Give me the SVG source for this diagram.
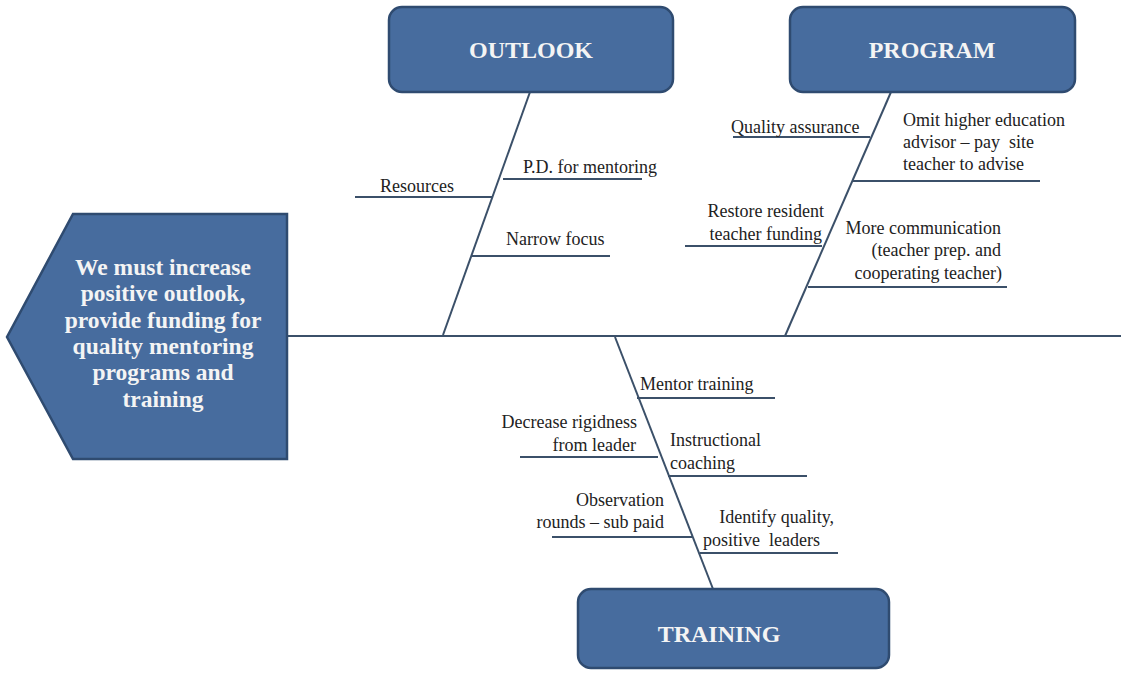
<svg xmlns="http://www.w3.org/2000/svg" width="1121" height="675" viewBox="0 0 1121 675">
<style>
.box{fill:#476c9e;stroke:#2f4b70;stroke-width:2.5}
.title{font-family:"Liberation Serif",serif;font-weight:bold;font-size:24px;fill:#f4f4f4;text-anchor:middle}
.head{font-family:"Liberation Serif",serif;font-weight:bold;font-size:23.5px;fill:#f4f4f4;text-anchor:middle}
.lbl{font-family:"Liberation Serif",serif;font-size:18px;fill:#222;white-space:pre}
.r{text-anchor:end}
.ln{stroke:#3b5069;stroke-width:2;fill:none}
</style>
<rect width="1121" height="675" fill="#ffffff"/>
<g id="connectors">
<line class="ln" x1="287" y1="336" x2="1121" y2="336"/>
<line class="ln" x1="530" y1="92" x2="443" y2="335"/>
<line class="ln" x1="891" y1="92" x2="785" y2="336"/>
<line class="ln" x1="615" y1="337" x2="713" y2="589"/>
<line class="ln" x1="355" y1="197" x2="492" y2="197"/>
<line class="ln" x1="503" y1="179" x2="642" y2="179"/>
<line class="ln" x1="472" y1="256" x2="610" y2="256"/>
<line class="ln" x1="733" y1="137" x2="870" y2="137"/>
<line class="ln" x1="853" y1="181" x2="1040" y2="181"/>
<line class="ln" x1="685" y1="246" x2="822" y2="246"/>
<line class="ln" x1="808" y1="287" x2="1007" y2="287"/>
<line class="ln" x1="637" y1="398" x2="775" y2="398"/>
<line class="ln" x1="520" y1="457" x2="658" y2="457"/>
<line class="ln" x1="668" y1="476" x2="807" y2="476"/>
<line class="ln" x1="552" y1="537" x2="692" y2="537"/>
<line class="ln" x1="700" y1="553" x2="838" y2="553"/>
</g>
<g id="head">
<polygon class="box" points="73,214 287,214 287,459 73,459 7,337"/>
<text class="head" x="163" y="275">We must increase</text>
<text class="head" x="163" y="301">positive outlook,</text>
<text class="head" x="163" y="328">provide funding for</text>
<text class="head" x="163" y="354">quality mentoring</text>
<text class="head" x="163" y="380">programs and</text>
<text class="head" x="163" y="407">training</text>
</g>
<g id="outlook">
<rect class="box" x="389" y="7" width="284" height="85" rx="13"/>
<text class="title" x="531" y="58">OUTLOOK</text>
</g>
<g id="program">
<rect class="box" x="790" y="7" width="285" height="85" rx="13"/>
<text class="title" x="932" y="58">PROGRAM</text>
</g>
<g id="training">
<rect class="box" x="578" y="589" width="311" height="79" rx="13"/>
<text class="title" x="719" y="642">TRAINING</text>
</g>
<g id="outlook-causes">
<text class="lbl" x="380" y="192">Resources</text>
<text class="lbl" x="523" y="173">P.D. for mentoring</text>
<text class="lbl" x="506" y="245">Narrow focus</text>
</g>
<g id="program-causes">
<text class="lbl" x="731" y="133">Quality assurance</text>
<text class="lbl" x="903" y="126">Omit higher education</text>
<text class="lbl" x="903" y="148">advisor – pay  site</text>
<text class="lbl" x="903" y="170">teacher to advise</text>
<text class="lbl r" x="824" y="217">Restore resident</text>
<text class="lbl r" x="822" y="240">teacher funding</text>
<text class="lbl r" x="1001" y="234">More communication</text>
<text class="lbl r" x="1001" y="256">(teacher prep. and</text>
<text class="lbl r" x="1002" y="279">cooperating teacher)</text>
</g>
<g id="training-causes">
<text class="lbl" x="640" y="390">Mentor training</text>
<text class="lbl r" x="637" y="428">Decrease rigidness</text>
<text class="lbl r" x="636" y="451">from leader</text>
<text class="lbl" x="670" y="446">Instructional</text>
<text class="lbl" x="670" y="469">coaching</text>
<text class="lbl r" x="664" y="506">Observation</text>
<text class="lbl r" x="664" y="528">rounds – sub paid</text>
<text class="lbl r" x="834" y="523">Identify quality,</text>
<text class="lbl" x="703" y="546">positive  leaders</text>
</g>
</svg>
